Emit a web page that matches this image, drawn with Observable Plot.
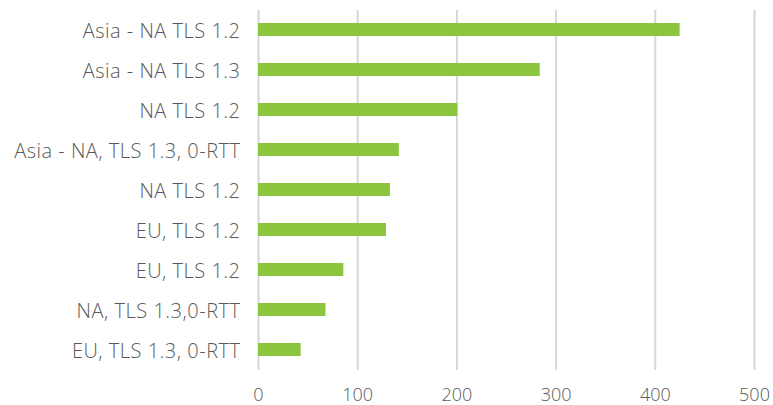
<!DOCTYPE html>
<html>
<head>
<meta charset="utf-8">
<script src="https://cdn.jsdelivr.net/npm/d3@7"></script>
<script src="https://cdn.jsdelivr.net/npm/@observablehq/plot@0.6"></script>
<style>
  html, body { margin: 0; padding: 0; background: #fff; }
  svg text { font-family: "Open Sans", "Liberation Sans", sans-serif; font-weight: 300; }
  .ylab text { letter-spacing: 0.5px; }
</style>
</head>
<body>
<div id="chart"></div>
<script>
const categories = [
  "Asia - NA TLS 1.2",
  "Asia - NA TLS 1.3",
  "NA TLS 1.2",
  "Asia - NA, TLS 1.3, 0-RTT",
  "NA TLS 1.2",
  "EU, TLS 1.2",
  "EU, TLS 1.2",
  "NA, TLS 1.3,0-RTT",
  "EU, TLS 1.3, 0-RTT"
];
const values = [425, 284, 201, 142, 133, 129, 86, 68, 43];
const xTicks = [0, 100, 200, 300, 400, 500];

const data = categories.map((c, i) => ({ id: i, label: c, value: values[i] }));

const chart = Plot.plot({
  width: 773,
  height: 405,
  marginLeft: 258,
  marginRight: 19,
  marginTop: 10,
  marginBottom: 35,
  style: { fontSize: "18px", color: "#595959", background: "#fff" },
  x: { domain: [0, 500], ticks: xTicks, label: null },
  y: { domain: d3.range(categories.length), paddingInner: 0.67, paddingOuter: 0.3, label: null },
  marks: [
    Plot.ruleX(xTicks, { stroke: "#d6d6d6", strokeWidth: 2 }),
    Plot.barX(data, { x: "value", y: "id", fill: "#8cc63f" }),
    Plot.axisX({ ticks: xTicks, tickSize: 0, tickPadding: 18, fill: "#595959", fontSize: 18, label: null }),
    Plot.axisY({ tickSize: 0, tickPadding: 18, dy: 1.5, tickFormat: i => categories[i], fill: "#595959", fontSize: 20, label: null, className: "ylab" })
  ]
});
document.getElementById("chart").appendChild(chart);
</script>
</body>
</html>
